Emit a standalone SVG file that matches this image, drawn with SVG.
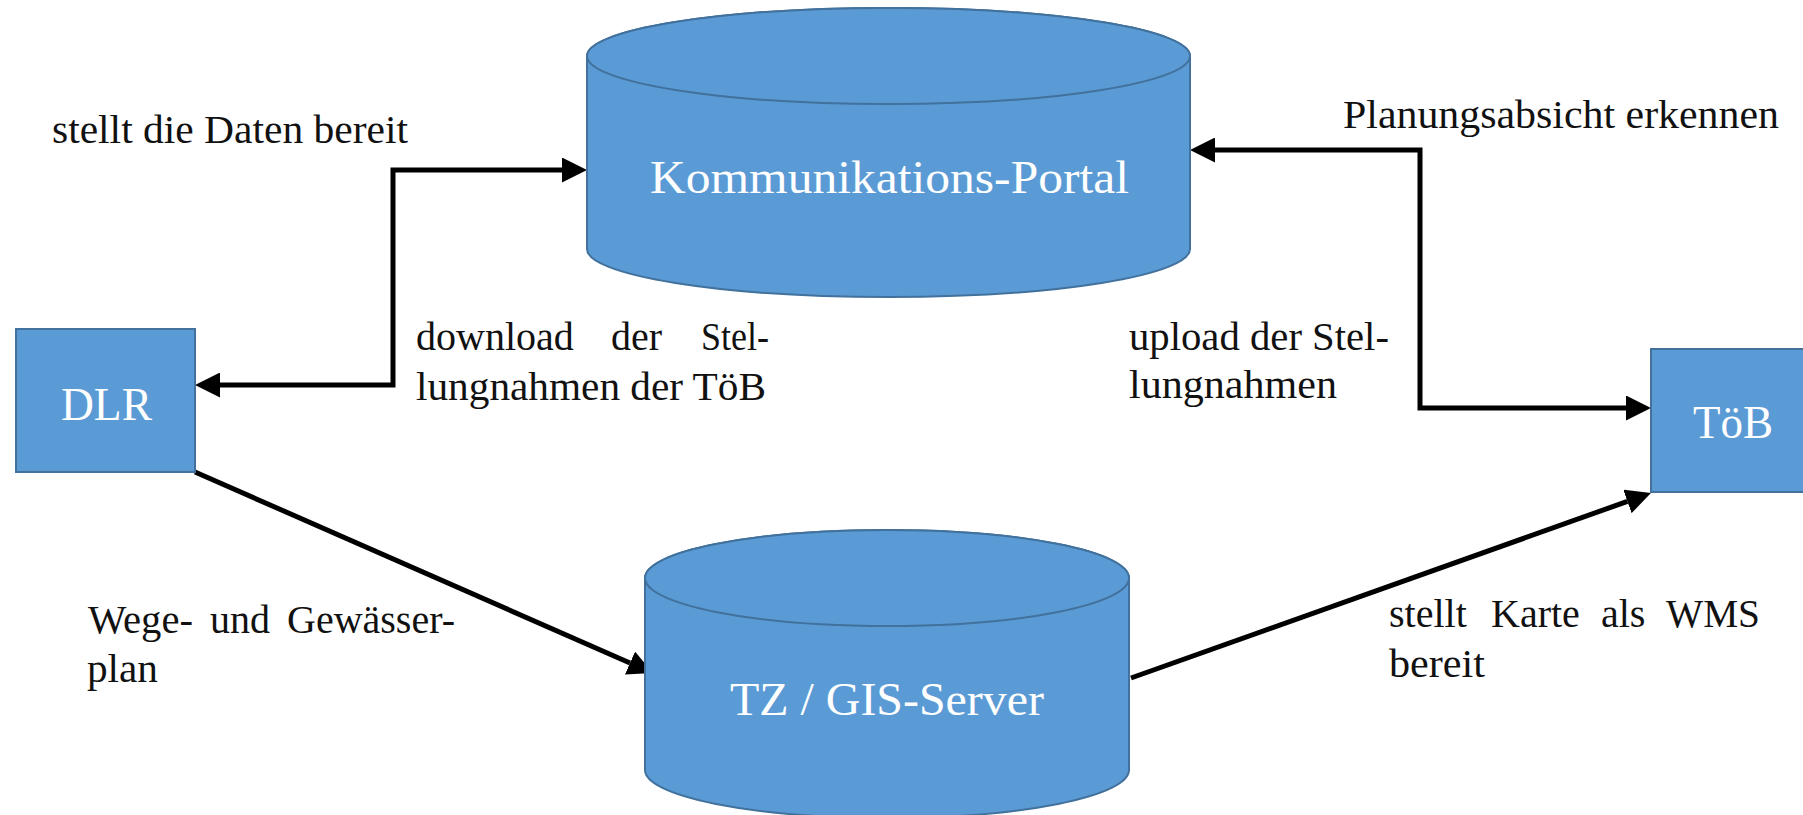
<svg xmlns="http://www.w3.org/2000/svg" width="1803" height="815" viewBox="0 0 1803 815">
<style>
.shape{fill:#5B9BD5;stroke:#41719C;stroke-width:2}
.ntext{font-family:"Liberation Serif","DejaVu Serif",serif;font-size:46px;fill:#ffffff}
.lbl{font-family:"Liberation Serif","DejaVu Serif",serif;font-size:40px;fill:#111111}
.conn{fill:none;stroke:#000000;stroke-width:5}
</style>
<defs>
<marker id="ah" markerUnits="userSpaceOnUse" markerWidth="25" markerHeight="25" refX="0" refY="12.5" orient="auto-start-reverse" viewBox="0 0 25 25">
<path d="M0,0 L25,12.5 L0,25 Z" fill="#000000"/>
</marker>
</defs>
<rect width="1803" height="815" fill="#ffffff"/>
<g id="connectors">
<path class="conn" d="M220,385 H393 V170 H562" marker-start="url(#ah)" marker-end="url(#ah)"/>
<path class="conn" d="M1215,150 H1420 V408 H1626" marker-start="url(#ah)" marker-end="url(#ah)"/>
<path class="conn" d="M195,472 L630,663" marker-end="url(#ah)"/>
<path class="conn" d="M1131,678 L1627.4,501.4" marker-end="url(#ah)"/>
</g>
<g id="portal">
<path class="shape" d="M587,56 A301.5,48 0 0 1 1190,56 V249 A301.5,48 0 0 1 587,249 Z"/>
<ellipse class="shape" cx="888.5" cy="56" rx="301.5" ry="48"/>
<text class="ntext" x="650" y="193" textLength="479" lengthAdjust="spacingAndGlyphs">Kommunikations-Portal</text>
</g>
<g id="gis">
<path class="shape" d="M645,578 A242,48 0 0 1 1129,578 V770 A242,48 0 0 1 645,770 Z"/>
<ellipse class="shape" cx="887" cy="578" rx="242" ry="48"/>
<text class="ntext" x="730" y="715" textLength="314" lengthAdjust="spacingAndGlyphs">TZ / GIS-Server</text>
</g>
<g id="dlr">
<rect class="shape" x="16" y="329" width="179" height="143"/>
<text class="ntext" x="61" y="420" textLength="91" lengthAdjust="spacingAndGlyphs">DLR</text>
</g>
<g id="toeb">
<rect class="shape" x="1651" y="349" width="170" height="143"/>
<text class="ntext" x="1693" y="438" textLength="80" lengthAdjust="spacingAndGlyphs">TöB</text>
</g>
<g id="labels">
<text class="lbl" x="52" y="143" textLength="356" lengthAdjust="spacingAndGlyphs">stellt die Daten bereit</text>
<text class="lbl" y="350"><tspan x="416">download</tspan> <tspan x="611">der</tspan> <tspan x="701" textLength="68" lengthAdjust="spacingAndGlyphs">Stel-</tspan></text>
<text class="lbl" x="416" y="400" textLength="350" lengthAdjust="spacingAndGlyphs">lungnahmen der TöB</text>
<text class="lbl" x="1343" y="128" textLength="436" lengthAdjust="spacingAndGlyphs">Planungsabsicht erkennen</text>
<text class="lbl" x="1129" y="350" textLength="260" lengthAdjust="spacingAndGlyphs">upload der Stel-</text>
<text class="lbl" x="1129" y="398" textLength="208" lengthAdjust="spacingAndGlyphs">lungnahmen</text>
<text class="lbl" y="633"><tspan x="88" textLength="105" lengthAdjust="spacingAndGlyphs">Wege-</tspan> <tspan x="210">und</tspan> <tspan x="287" textLength="168" lengthAdjust="spacingAndGlyphs">Gewässer-</tspan></text>
<text class="lbl" x="87" y="682" textLength="71" lengthAdjust="spacingAndGlyphs">plan</text>
<text class="lbl" y="627"><tspan x="1389">stellt</tspan> <tspan x="1491">Karte</tspan> <tspan x="1601">als</tspan> <tspan x="1666" textLength="94" lengthAdjust="spacingAndGlyphs">WMS</tspan></text>
<text class="lbl" x="1389" y="677" textLength="96" lengthAdjust="spacingAndGlyphs">bereit</text>
</g>
</svg>
